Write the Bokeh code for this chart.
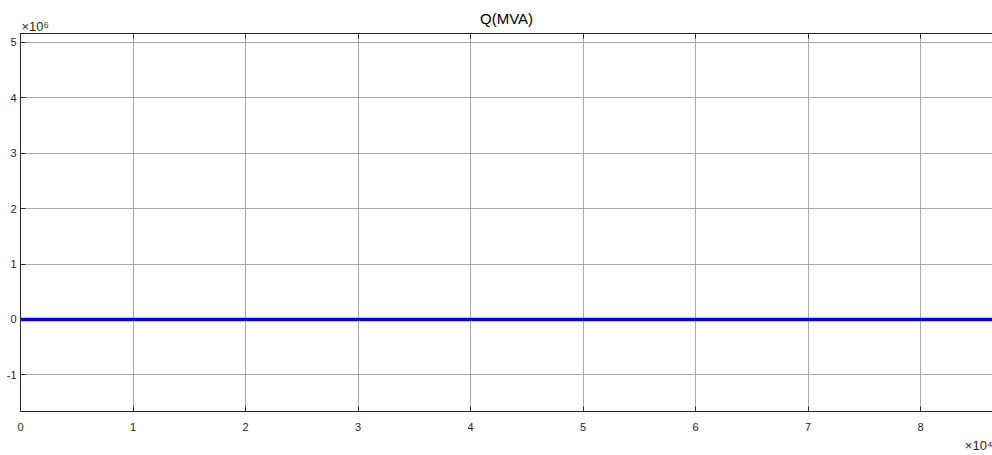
from bokeh.plotting import figure
from bokeh.models import LinearAxis, FixedTicker, Range1d, Grid, Title
from bokeh.embed import file_html
from bokeh.resources import INLINE

# Data
time_s = [0, 10000, 20000, 30000, 40000, 50000, 60000, 70000, 80000, 86400]
q_mva = [0, 0, 0, 0, 0, 0, 0, 0, 0, 0]

x_ticks = [0, 10000, 20000, 30000, 40000, 50000, 60000, 70000, 80000]
x_tick_labels = ["0", "1", "2", "3", "4", "5", "6", "7", "8"]
y_ticks = [-1e6, 0, 1e6, 2e6, 3e6, 4e6, 5e6]
y_tick_labels = ["-1", "0", "1", "2", "3", "4", "5"]
title_text = "Q(MVA)"
y_exponent = "×10⁶"
x_exponent = "×10⁴"

FONT = "Liberation Sans"
DARK = "#262626"

p = figure(width=992, height=455, output_backend="svg", toolbar_location=None,
           x_range=Range1d(0, 86400), y_range=Range1d(-1.66e6, 5.16e6),
           x_axis_type=None, y_axis_type=None,
           min_border_left=20, min_border_right=0, min_border_top=33, min_border_bottom=44)
p.outline_line_color = None
p.background_fill_color = "white"
p.border_fill_color = "white"

def style(ax):
    ax.axis_line_color = DARK
    ax.axis_line_width = 1
    ax.major_tick_in = 5
    ax.major_tick_out = 0
    ax.major_tick_line_color = DARK
    ax.minor_tick_line_color = None
    ax.major_label_text_font = FONT
    ax.major_label_text_font_size = "11px"
    ax.major_label_text_color = DARK

xb = LinearAxis(ticker=FixedTicker(ticks=x_ticks),
                major_label_overrides=dict(zip(x_ticks, x_tick_labels)))
style(xb)
xb.major_label_standoff = 11
p.add_layout(xb, "below")

# top border with inward tick marks (no labels)
xt = LinearAxis(ticker=FixedTicker(ticks=[], minor_ticks=x_ticks))
xt.axis_line_color = DARK
xt.major_tick_line_color = None
xt.minor_tick_line_color = DARK
xt.minor_tick_in = 5
xt.minor_tick_out = 0
xt.major_label_standoff = 0
p.add_layout(xt, "above")

yl = LinearAxis(ticker=FixedTicker(ticks=y_ticks),
                major_label_overrides=dict(zip(y_ticks, y_tick_labels)))
style(yl)
yl.major_label_standoff = 4
p.add_layout(yl, "left")

for dim, ticks in ((0, x_ticks), (1, y_ticks)):
    g = Grid(dimension=dim, ticker=FixedTicker(ticks=ticks))
    g.grid_line_color = "#a8a8a8"
    g.grid_line_width = 1
    p.add_layout(g)

p.line(time_s, q_mva, line_color="#0000e0", line_width=3.5)

# exponent "titles" and main title
p.add_layout(Title(text=y_exponent, align="left", text_font=FONT, text_font_size="13px",
                   text_font_style="normal", text_color=DARK, standoff=0, offset=1), "above")
p.add_layout(Title(text=title_text, align="center", text_font=FONT, text_font_size="15px",
                   text_font_style="normal", text_color="#000000", standoff=-20), "above")
p.add_layout(Title(text=x_exponent, align="right", text_font=FONT, text_font_size="13px",
                   text_font_style="normal", text_color=DARK, standoff=5), "below")

open("out.html", "w").write(file_html(p, INLINE))
